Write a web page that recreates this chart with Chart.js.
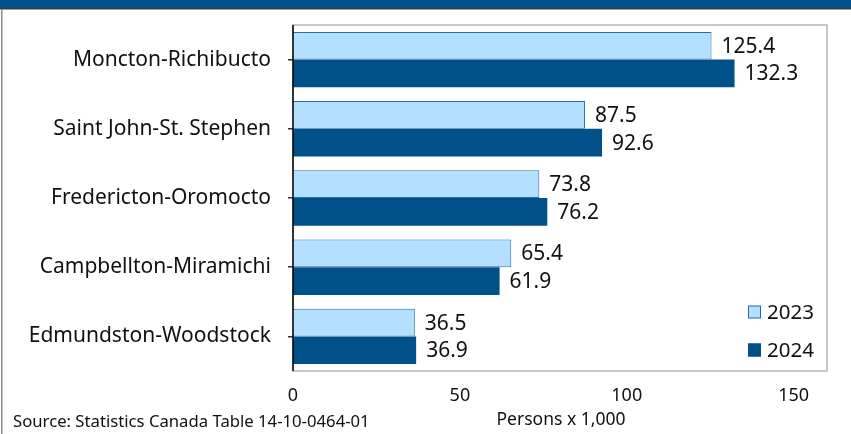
<!DOCTYPE html>
<html>
<head>
<meta charset="utf-8">
<script src="https://cdn.jsdelivr.net/npm/chart.js@4.4.1/dist/chart.umd.min.js"></script>
<style>
html,body{margin:0;padding:0;background:#fff;}
#wrap{width:851px;height:434px;position:relative;}
</style>
</head>
<body>
<div id="wrap"><canvas id="c" width="851" height="434"></canvas></div>
<script>
const categories = ["Moncton-Richibucto","Saint John-St. Stephen","Fredericton-Oromocto","Campbellton-Miramichi","Edmundston-Woodstock"];
const seriesNames = ["2023","2024"];
const values2023 = [125.4, 87.5, 73.8, 65.4, 36.5];
const values2024 = [132.3, 92.6, 76.2, 61.9, 36.9];
const xTicks = [0, 50, 100, 150];
const sourceText = "Source: Statistics Canada Table 14-10-0464-01";
const axisTitle = "Persons x 1,000";

const FONT = "'Noto Sans', 'Open Sans', sans-serif";
const LIGHT = "#b3e0ff";
const DARK = "#00518a";

const framePlugin = {
  id: 'frame',
  beforeDraw(chart) {
    const ctx = chart.ctx;
    ctx.save();
    ctx.fillStyle = '#fff';
    ctx.fillRect(0, 0, chart.width, chart.height);
    ctx.fillStyle = '#00518a';
    ctx.fillRect(0, 0, chart.width, 8);
    ctx.fillStyle = '#3a3a3a';
    ctx.fillRect(0, 8, chart.width, 1.5);
    ctx.fillStyle = '#8c8c8c';
    ctx.fillRect(1, 9, 1.5, chart.height - 9);
    const a = chart.chartArea;
    ctx.strokeStyle = '#b4b4b4';
    ctx.lineWidth = 1.5;
    ctx.strokeRect(a.left, a.top, a.right - a.left, a.bottom - a.top);
    ctx.restore();
  },
  afterDraw(chart) {
    const ctx = chart.ctx;
    const a = chart.chartArea;
    ctx.save();
    ctx.strokeStyle = '#000';
    ctx.lineWidth = 1.5;
    ctx.beginPath();
    ctx.moveTo(a.left, a.top);
    ctx.lineTo(a.left, a.bottom);
    ctx.stroke();
    // data labels
    ctx.fillStyle = '#111';
    ctx.font = "21px " + FONT;
    ctx.textAlign = 'left';
    ctx.textBaseline = 'middle';
    chart.data.datasets.forEach((ds, i) => {
      const meta = chart.getDatasetMeta(i);
      meta.data.forEach((bar, j) => {
        ctx.fillText(ds.data[j].toFixed(1), bar.x + 10, bar.y + 1);
      });
    });
    // legend inside plot
    ctx.font = "20.5px " + FONT;
    const ly = [312, 350];
    chart.data.datasets.forEach((ds, i) => {
      ctx.fillStyle = ds.backgroundColor;
      ctx.fillRect(748, ly[i] - 6.5, 13, 13);
      ctx.strokeStyle = ds.borderColor;
      ctx.lineWidth = 1;
      ctx.strokeRect(748.5, ly[i] - 6, 12, 12);
      ctx.fillStyle = '#111';
      ctx.fillText(ds.label, 767, ly[i] + 1);
    });
    // source and axis title
    ctx.fillStyle = '#111';
    ctx.textAlign = 'left';
    ctx.font = "16.7px " + FONT;
    ctx.fillText(sourceText, 13, 422);
    ctx.textAlign = 'center';
    ctx.font = "17.5px " + FONT;
    ctx.fillText(axisTitle, 561, 420);
    ctx.restore();
  }
};

new Chart(document.getElementById('c'), {
  type: 'bar',
  data: {
    labels: categories,
    datasets: [
      { label: seriesNames[0], data: values2023, backgroundColor: LIGHT, borderColor: '#2a6e9e', borderWidth: 1, borderSkipped: 'start', categoryPercentage: 0.8, barPercentage: 1.0 },
      { label: seriesNames[1], data: values2024, backgroundColor: DARK, borderColor: DARK, borderWidth: 0, categoryPercentage: 0.8, barPercentage: 1.0 }
    ]
  },
  options: {
    indexAxis: 'y',
    responsive: false,
    animation: false,
    devicePixelRatio: 1,
    layout: { padding: { top: 25, right: 24, left: 0, bottom: 0 } },
    plugins: { legend: { display: false }, tooltip: { enabled: false } },
    scales: {
      x: {
        min: 0, max: 160,
        afterBuildTicks(scale) { scale.ticks = xTicks.map(v => ({ value: v })); },
        afterFit(scale) { scale.height = 63; scale.paddingLeft = 0; scale.paddingRight = 0; },
        grid: { display: false, drawTicks: false },
        border: { display: false },
        ticks: { color: '#111', font: { family: FONT, size: 18 }, padding: 14, maxRotation: 0 }
      },
      y: {
        afterFit(scale) { scale.width = 293; scale.paddingTop = 0; scale.paddingBottom = 0; },
        grid: { display: true, drawOnChartArea: false, offset: false, tickLength: 5, color: '#333', lineWidth: 1.5 },
        border: { display: false },
        ticks: { color: '#111', font: { family: FONT, size: 21 }, padding: 17 }
      }
    }
  },
  plugins: [framePlugin]
});
</script>
</body>
</html>
